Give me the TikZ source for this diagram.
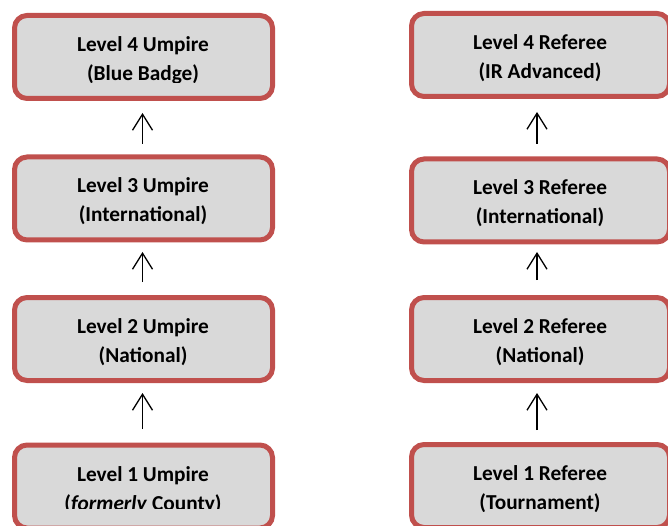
\documentclass[tikz,border=0pt]{standalone}
\usepackage{fontspec}
\setmainfont{Carlito}
\usetikzlibrary{arrows.meta,calc}
\definecolor{boxred}{HTML}{C0504D}
\definecolor{boxgray}{HTML}{D9D9D9}
\begin{document}
\begin{tikzpicture}[x=1pt,y=1pt,
  card/.style={draw=boxred, fill=boxgray, line width=5pt, rounded corners=12.5pt,
    minimum width=258pt, minimum height=83pt, inner sep=0pt, outer sep=0pt},
  txt/.style={font=\fontsize{21.3}{29}\selectfont\bfseries, anchor=base, inner sep=0pt},
  up/.style={-{Straight Barb[length=16pt,width=20pt]}, line width=1.3pt}]
\useasboundingbox (0,0) rectangle (668,525);
% boxes
\node[card] (l4) at (143.5,468) {};
\node[card] (l3) at (143.5,326.5) {};
\node[card] (l2) at (143.5,186) {};
\node[card] (l1) at (143.5,38.5) {};
\node[card] (r4) at (540.5,470) {};
\node[card] (r3) at (540.5,324.5) {};
\node[card] (r2) at (540.5,186) {};
\node[card] (r1) at (540.5,39) {};
% texts, left column
\node[txt] (l4a) at ($(l4.center)+(-0.5,5.5)$) {Level 4 Umpire};
\begin{scope}
  \clip (0,442) rectangle (668,525);
  \node[txt] (l4b) at ($(l4.center)+(-0.5,-23.5)$) {(Blue Badge)};
\end{scope}
\node[txt] (l3a) at ($(l3.center)+(-0.5,5.5)$) {Level 3 Umpire};
\node[txt] (l3b) at ($(l3.center)+(-0.5,-23.5)$) {(International)};
\node[txt] (l2a) at ($(l2.center)+(-0.5,5.5)$) {Level 2 Umpire};
\node[txt] (l2b) at ($(l2.center)+(-0.5,-23.5)$) {(National)};
\node[txt] (l1a) at ($(l1.center)+(-0.5,5.5)$) {Level 1 Umpire};
\begin{scope}
  \clip (0,16.5) rectangle (668,100);
  \node[txt] (l1b) at ($(l1.center)+(-0.5,-23.5)$) {(\textit{formerly} County)};
\end{scope}
% texts, right column
\node[txt] (r4a) at ($(r4.center)+(-0.5,5.5)$) {Level 4 Referee};
\begin{scope}
  \clip (340,443.5) rectangle (668,525);
  \node[txt] (r4b) at ($(r4.center)+(-0.5,-23.5)$) {(IR Advanced)};
\end{scope}
\node[txt] (r3a) at ($(r3.center)+(-0.5,5.5)$) {Level 3 Referee};
\node[txt] (r3b) at ($(r3.center)+(-0.5,-23.5)$) {(International)};
\node[txt] (r2a) at ($(r2.center)+(-0.5,5.5)$) {Level 2 Referee};
\node[txt] (r2b) at ($(r2.center)+(-0.5,-23.5)$) {(National)};
\node[txt] (r1a) at ($(r1.center)+(-0.5,5.5)$) {Level 1 Referee};
\begin{scope}
  \clip (340,14) rectangle (668,100);
  \node[txt] (r1b) at ($(r1.center)+(-0.5,-23.5)$) {(Tournament)};
\end{scope}
% arrows, left column
\draw[up] ([xshift=-1pt,yshift=13pt]l3.north) -- ([xshift=-1pt,yshift=-14.5pt]l4.south);
\draw[up] ([xshift=-1pt,yshift=15.5pt]l2.north) -- ([xshift=-1pt,yshift=-12pt]l3.south);
\draw[up] ([xshift=-1pt,yshift=16pt]l1.north) -- ([xshift=-1pt,yshift=-12.5pt]l2.south);
% arrows, right column
\draw[up] ([xshift=-3.5pt,yshift=15pt]r3.north) -- ([xshift=-3.5pt,yshift=-15.5pt]r4.south);
\draw[up] ([xshift=-3.5pt,yshift=17.5pt]r2.north) -- ([xshift=-3.5pt,yshift=-10pt]r3.south);
\draw[up] ([xshift=-3.5pt,yshift=14.5pt]r1.north) -- ([xshift=-3.5pt,yshift=-12.5pt]r2.south);
\end{tikzpicture}
\end{document}
